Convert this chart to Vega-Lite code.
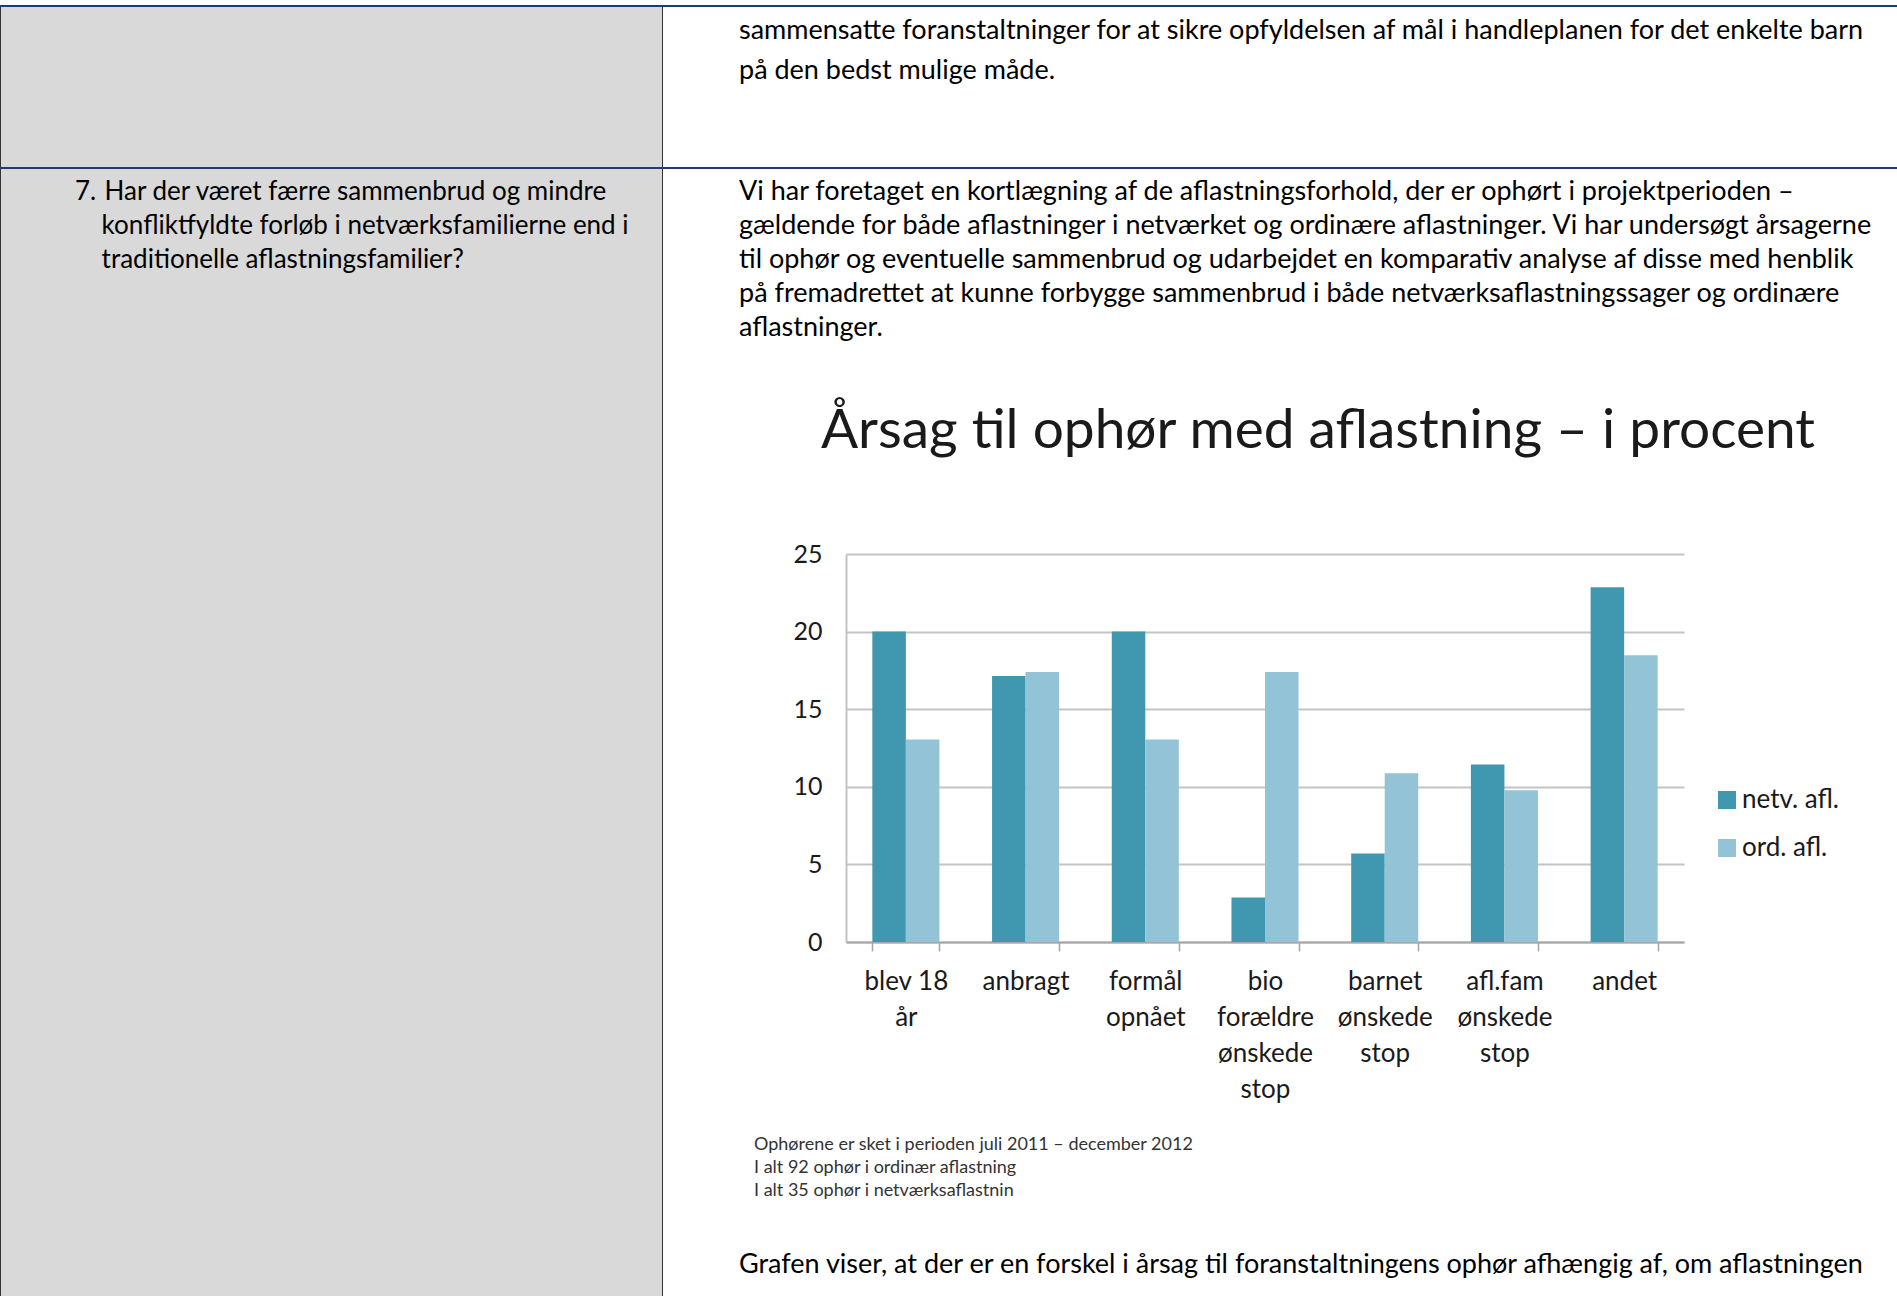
{
  "$schema": "https://vega.github.io/schema/vega-lite/v6.json",
  "background": "white",
  "padding": {"top": 5, "left": 0, "right": 0, "bottom": 0},
  "spacing": 0,
  "config": {
    "view": {"stroke": null},
    "font": "Lato",
    "concat": {"spacing": 0},
    "title": {"font": "Lato", "fontWeight": "normal", "color": "#000000"}
  },
  "vconcat": [
    {"width": 1897, "height": 2, "data": {"values": []}, "mark": "rect", "encoding": {}, "view": {"fill": "#1f3b73"}},
    {
      "spacing": 0,
      "hconcat": [
        {"width": 1, "height": 160, "data": {"values": []}, "mark": "rect", "encoding": {}, "view": {"fill": "#333333"}},
        {"width": 661, "height": 160, "data": {"values": []}, "mark": "rect", "encoding": {}, "view": {"fill": "#d9d9d9"}},
        {"width": 1, "height": 160, "data": {"values": []}, "mark": "rect", "encoding": {}, "view": {"fill": "#333333"}},
        {
          "width": 1234, "height": 160, "data": {"values": []}, "mark": "rect", "encoding": {},
          "title": {
            "text": ["sammensatte foranstaltninger for at sikre opfyldelsen af mål i handleplanen for det enkelte barn", "på den bedst mulige måde."],
            "anchor": "start", "fontSize": 27, "lineHeight": 40, "offset": -78, "dx": 76
          }
        }
      ]
    },
    {"width": 1897, "height": 2, "data": {"values": []}, "mark": "rect", "encoding": {}, "view": {"fill": "#1f3b73"}},
    {
      "spacing": 0,
      "hconcat": [
        {"width": 1, "height": 1130, "data": {"values": []}, "mark": "rect", "encoding": {}, "view": {"fill": "#333333"}},
        {
          "width": 661, "height": 1130, "data": {"values": []}, "mark": "rect", "encoding": {}, "view": {"fill": "#d9d9d9"},
          "title": {
            "text": ["7.\u00a0\u200aHar der været færre sammenbrud og mindre", "\u200b\u00a0\u00a0\u00a0\u00a0konfliktfyldte forløb i netværksfamilierne end i", "\u200b\u00a0\u00a0\u00a0\u00a0traditionelle aflastningsfamilier?"],
            "anchor": "start", "fontSize": 26, "lineHeight": 34, "offset": -104, "dx": 74
          }
        },
        {"width": 1, "height": 1130, "data": {"values": []}, "mark": "rect", "encoding": {}, "view": {"fill": "#333333"}},
        {
          "spacing": 0,
          "vconcat": [
            {
              "width": 1234, "height": 235, "data": {"values": []}, "mark": "rect", "encoding": {},
              "title": {
                "text": [
                  "Vi har foretaget en kortlægning af de aflastningsforhold, der er ophørt i projektperioden –",
                  "gældende for både aflastninger i netværket og ordinære aflastninger. Vi har undersøgt årsagerne",
                  "til ophør og eventuelle sammenbrud og udarbejdet en komparativ analyse af disse med henblik",
                  "på fremadrettet at kunne forbygge sammenbrud i både netværksaflastningssager og ordinære",
                  "aflastninger."
                ],
                "anchor": "start", "fontSize": 27, "lineHeight": 34, "offset": -173, "dx": 76
              }
            },
            {
              "spacing": 0,
              "hconcat": [
                {"width": 129, "height": 1, "data": {"values": []}, "mark": "rect", "encoding": {}},
                {
                  "width": 838, "height": 388,
                  "title": {"text": "Årsag til ophør med aflastning – i procent", "fontSize": 55, "offset": 82, "anchor": "middle", "dx": 53, "color": "#1a1a1a"},
                  "data": {"values": [
                    {"kategori": "blev 18 år", "type": "netv. afl.", "procent": 20.0},
                    {"kategori": "blev 18 år", "type": "ord. afl.", "procent": 13.04},
                    {"kategori": "anbragt", "type": "netv. afl.", "procent": 17.14},
                    {"kategori": "anbragt", "type": "ord. afl.", "procent": 17.39},
                    {"kategori": "formål opnået", "type": "netv. afl.", "procent": 20.0},
                    {"kategori": "formål opnået", "type": "ord. afl.", "procent": 13.04},
                    {"kategori": "bio forældre ønskede stop", "type": "netv. afl.", "procent": 2.86},
                    {"kategori": "bio forældre ønskede stop", "type": "ord. afl.", "procent": 17.39},
                    {"kategori": "barnet ønskede stop", "type": "netv. afl.", "procent": 5.71},
                    {"kategori": "barnet ønskede stop", "type": "ord. afl.", "procent": 10.87},
                    {"kategori": "afl.fam ønskede stop", "type": "netv. afl.", "procent": 11.43},
                    {"kategori": "afl.fam ønskede stop", "type": "ord. afl.", "procent": 9.78},
                    {"kategori": "andet", "type": "netv. afl.", "procent": 22.86},
                    {"kategori": "andet", "type": "ord. afl.", "procent": 18.48}
                  ]},
                  "mark": {"type": "bar"},
                  "encoding": {
                    "x": {
                      "field": "kategori", "type": "nominal",
                      "sort": ["blev 18 år", "anbragt", "formål opnået", "bio forældre ønskede stop", "barnet ønskede stop", "afl.fam ønskede stop", "andet"],
                      "scale": {"paddingInner": 0.44, "paddingOuter": 0.22},
                      "axis": {
                        "title": null, "labelAngle": 0, "labelFontSize": 26, "labelColor": "#1a1a1a",
                        "labelLineHeight": 36, "labelPadding": 17, "labelBaseline": "top", "labelLimit": 0,
                        "labelExpr": "datum.label == 'blev 18 år' ? ['blev 18', 'år'] : split(datum.label, ' ')",
                        "ticks": true, "tickBand": "extent", "tickSize": 9, "tickColor": "#a6a6a6", "tickWidth": 1.5,
                        "domainColor": "#a6a6a6", "domainWidth": 2
                      }
                    },
                    "xOffset": {"field": "type", "type": "nominal", "sort": ["netv. afl.", "ord. afl."], "scale": {"paddingInner": 0, "paddingOuter": 0}},
                    "y": {
                      "field": "procent", "type": "quantitative",
                      "scale": {"domain": [0, 25], "nice": false},
                      "axis": {
                        "title": null, "values": [0, 5, 10, 15, 20, 25], "grid": true, "gridColor": "#c4c4c4", "gridWidth": 2,
                        "domainColor": "#c4c4c4", "domainWidth": 2, "ticks": false, "labelFontSize": 25, "labelPadding": 24, "labelColor": "#1a1a1a"
                      }
                    },
                    "color": {
                      "field": "type", "type": "nominal",
                      "scale": {"domain": ["netv. afl.", "ord. afl."], "range": ["#3f98b0", "#93c3d6"]},
                      "legend": {
                        "title": null, "orient": "none", "legendX": 1714, "legendY": 782, "symbolType": "square", "symbolSize": 324,
                        "labelFontSize": 26, "rowPadding": 22, "labelOffset": 2, "symbolStrokeWidth": 0, "labelColor": "#1a1a1a"
                      }
                    }
                  }
                }
              ]
            },
            {
              "width": 1234, "height": 132, "data": {"values": []}, "mark": "rect", "encoding": {},
              "title": {
                "text": ["Ophørene er sket i perioden juli 2011 – december 2012", "I alt 92 ophør i ordinær aflastning", "I alt 35 ophør i netværksaflastnin"],
                "anchor": "start", "fontSize": 18, "lineHeight": 23, "offset": -98, "dx": 91, "color": "#333333"
              }
            },
            {
              "width": 1234, "height": 70, "data": {"values": []}, "mark": "rect", "encoding": {},
              "title": {
                "text": "Grafen viser, at der er en forskel i årsag til foranstaltningens ophør afhængig af, om aflastningen",
                "anchor": "start", "fontSize": 27, "offset": -45, "dx": 76
              }
            }
          ]
        }
      ]
    }
  ]
}
